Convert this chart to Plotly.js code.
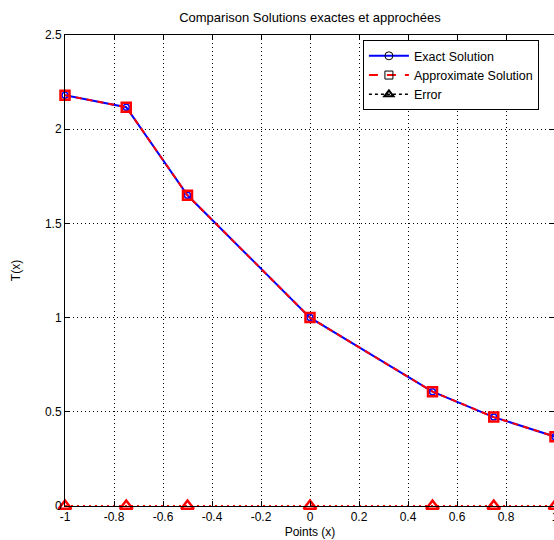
<!DOCTYPE html>
<html>
<head>
<meta charset="utf-8">
<script src="https://cdn.plot.ly/plotly-3.0.1.min.js"></script>
<style>
html,body{margin:0;padding:0;overflow:hidden;background:#fff;}
#chart{width:560px;height:540px;}
</style>
</head>
<body>
<div id="chart"></div>
<script>
var points = [-1, -0.75, -0.5, 0, 0.5, 0.75, 1];
var exactValues = [2.18, 2.117, 1.649, 1.0, 0.607, 0.472, 0.368];
var approxValues = [2.18, 2.117, 1.649, 1.0, 0.607, 0.472, 0.368];
var errorValues = [0, 0, 0, 0, 0, 0, 0];
var xTickVals = [-1, -0.8, -0.6, -0.4, -0.2, 0, 0.2, 0.4, 0.6, 0.8, 1];
var xTickText = ["-1", "-0.8", "-0.6", "-0.4", "-0.2", "0", "0.2", "0.4", "0.6", "0.8", "1"];
var yTickVals = [0, 0.5, 1, 1.5, 2, 2.5];
var yTickText = ["0", "0.5", "1", "1.5", "2", "2.5"];
var seriesNames = ["Exact Solution", "Approximate Solution", "Error"];

var font = "Liberation Sans, Arial, Helvetica, sans-serif";

var traces = [
  {x: points, y: errorValues, mode: "lines+markers", showlegend: false, cliponaxis: false,
   line: {color: "#ff0000", width: 2, dash: "2px,4px"},
   marker: {symbol: "triangle-up-open", size: 11, color: "#ff0000", line: {width: 2.5, color: "#ff0000"}}},
  {x: points, y: exactValues, mode: "lines+markers", showlegend: false, cliponaxis: false,
   line: {color: "#0000ff", width: 2},
   marker: {symbol: "circle-open", size: 6, color: "#0000ff", line: {width: 1.5, color: "#0000ff"}}},
  {x: points, y: approxValues, mode: "lines+markers", showlegend: false, cliponaxis: false,
   line: {color: "#ff0000", width: 2, dash: "6px,5px"},
   marker: {symbol: "square-open", size: 9, color: "#ff0000", line: {width: 2.5, color: "#ff0000"}}},
  // legend entries
  {x: [null], y: [null], mode: "lines+markers", name: seriesNames[0],
   line: {color: "#0000ff", width: 2},
   marker: {symbol: "circle-open", size: 8, color: "#000000", line: {width: 1, color: "#000000"}}},
  {x: [null], y: [null], mode: "lines+markers", name: seriesNames[1],
   line: {color: "#ff0000", width: 2, dash: "dash"},
   marker: {symbol: "square-open", size: 8, color: "#000000", line: {width: 1, color: "#000000"}}},
  {x: [null], y: [null], mode: "lines+markers", name: seriesNames[2],
   line: {color: "#000000", width: 1.5, dash: "dot"},
   marker: {symbol: "triangle-up-open", size: 8, color: "#000000", line: {width: 2, color: "#000000"}}}
];

var axisCommon = {
  showline: true, linecolor: "#000", linewidth: 1, mirror: "ticks",
  ticks: "inside", ticklen: 5, tickwidth: 1, tickcolor: "#000",
  showgrid: true, gridcolor: "#000", gridwidth: 1, griddash: "1px,3px",
  zeroline: false, tickfont: {family: font, size: 12, color: "#000"}
};

var layout = {
  width: 560, height: 540,
  margin: {l: 65, r: 5, t: 35, b: 34},
  paper_bgcolor: "#fff", plot_bgcolor: "#fff",
  font: {family: font, size: 12, color: "#000"},
  title: {text: "Comparison Solutions exactes et approchées", font: {family: font, size: 13, color: "#000"},
          x: 0.5535, xanchor: "center", y: 0.967, yanchor: "middle"},
  xaxis: Object.assign({}, axisCommon, {
    range: [-1, 1], tickvals: xTickVals, ticktext: xTickText,
    title: {text: "Points (x)", font: {family: font, size: 12, color: "#000"}, standoff: 4}
  }),
  yaxis: Object.assign({}, axisCommon, {
    range: [0, 2.5], tickvals: yTickVals, ticktext: yTickText,
    title: {text: "T(x)", font: {family: font, size: 12, color: "#000"}, standoff: 21}
  }),
  legend: {x: 0.608, y: 0.989, xanchor: "left", yanchor: "top",
           bgcolor: "#fff", bordercolor: "#000", borderwidth: 1,
           font: {family: font, size: 12.5, color: "#000"},
           tracegroupgap: 0, itemwidth: 40}
};

Plotly.newPlot("chart", traces, layout, {displayModeBar: false, staticPlot: true});
</script>
</body>
</html>
